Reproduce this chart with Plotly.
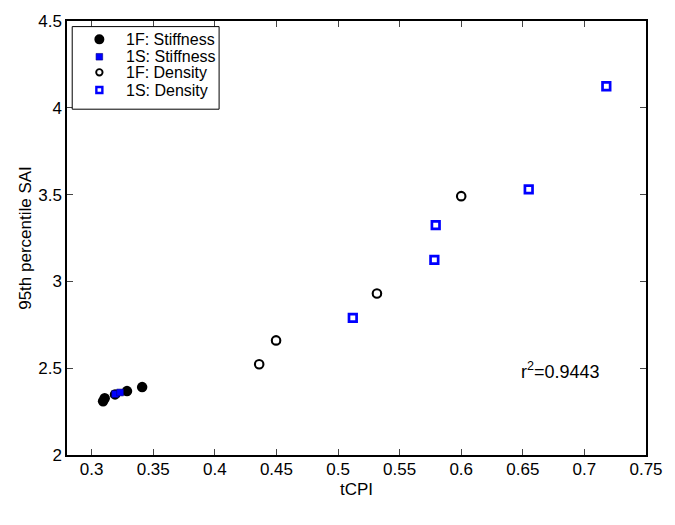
import plotly.graph_objects as go

# Data
f1_stiff_x = [0.3093, 0.3106, 0.3190, 0.3287, 0.3410]
f1_stiff_y = [2.310, 2.327, 2.349, 2.368, 2.391]
s1_stiff_x = [0.3191, 0.3231]
s1_stiff_y = [2.351, 2.360]
f1_dens_x = [0.4360, 0.4497, 0.5316, 0.6000]
f1_dens_y = [2.523, 2.660, 2.930, 3.491]
s1_dens_x = [0.5120, 0.5782, 0.5793, 0.6548, 0.7178]
s1_dens_y = [2.790, 3.124, 3.324, 3.530, 4.124]

x_ticks = [0.3, 0.35, 0.4, 0.45, 0.5, 0.55, 0.6, 0.65, 0.7, 0.75]
y_ticks = [2, 2.5, 3, 3.5, 4, 4.5]
legend_labels = ["1F: Stiffness", "1S: Stiffness", "1F: Density", "1S: Density"]
r2_text = "r<sup>2</sup>=0.9443"

FONT = "Liberation Sans, Arial, Helvetica, sans-serif"
BLUE = "#0000ff"

fig = go.Figure()
fig.add_trace(go.Scatter(x=f1_stiff_x, y=f1_stiff_y, mode="markers", name=legend_labels[0],
                         marker=dict(symbol="circle", color="black", size=10.5,
                                     line=dict(color="black", width=0))))
fig.add_trace(go.Scatter(x=s1_stiff_x, y=s1_stiff_y, mode="markers", name=legend_labels[1],
                         marker=dict(symbol="square", color=BLUE, size=6.8,
                                     line=dict(color="#000080", width=0.6))))
fig.add_trace(go.Scatter(x=f1_dens_x, y=f1_dens_y, mode="markers", name=legend_labels[2],
                         marker=dict(symbol="circle-open", color="black", size=8.5,
                                     line=dict(color="black", width=2.1))))
fig.add_trace(go.Scatter(x=s1_dens_x, y=s1_dens_y, mode="markers", name=legend_labels[3],
                         marker=dict(symbol="square-open", color=BLUE, size=7.6,
                                     line=dict(color=BLUE, width=2.7))))

fig.add_annotation(x=0.6465, y=2.485, xref="x", yref="y", text=r2_text, showarrow=False,
                   xanchor="left", yanchor="middle", font=dict(family=FONT, size=18, color="black"))

# Legend box (drawn manually to match the compact MATLAB-style legend)
fig.add_shape(type="rect", xref="paper", yref="paper", x0=0.009, x1=0.2627, y0=0.7968, y1=0.9871,
              line=dict(color="black", width=1), fillcolor="white", layer="above")
row_y = [0.9577, 0.9176, 0.8817, 0.8409]
mx, tx = 0.0559, 0.0983
legend_styles = [
    dict(type="circle", r=5, fill="black", line="black", lw=0),
    dict(type="rect", r=3.3, fill=BLUE, line="#000080", lw=0.6),
    dict(type="circle", r=3.2, fill="rgba(0,0,0,0)", line="black", lw=1.9),
    dict(type="rect", r=3.0, fill="rgba(0,0,0,0)", line=BLUE, lw=2.4),
]
for lab, yy, st in zip(legend_labels, row_y, legend_styles):
    fig.add_shape(type=st["type"], xref="paper", yref="paper", xsizemode="pixel", ysizemode="pixel",
                  xanchor=mx, yanchor=yy, x0=-st["r"], x1=st["r"], y0=-st["r"], y1=st["r"],
                  fillcolor=st["fill"], line=dict(color=st["line"], width=st["lw"]), layer="above")
    fig.add_annotation(x=tx, y=yy, xref="paper", yref="paper", text=lab, showarrow=False,
                       xanchor="left", yanchor="middle", font=dict(family=FONT, size=16, color="black"))

axis_common = dict(showgrid=False, zeroline=False, showline=True, linecolor="black", linewidth=1.5,
                   mirror="ticks", ticks="inside", ticklen=6, tickcolor="#444444", tickwidth=1,
                   tickfont=dict(family=FONT, size=17, color="black"))

fig.update_xaxes(range=[0.28, 0.75], tickvals=x_ticks, ticktext=[f"{v:g}" for v in x_ticks],
                 ticklabelstandoff=-2,
                 title=dict(text="tCPI", font=dict(family=FONT, size=17, color="black"), standoff=5),
                 **axis_common)
fig.update_yaxes(range=[2, 4.5], tickvals=y_ticks, ticktext=[f"{v:g}" for v in y_ticks],
                 title=dict(text="95th percentile SAI", font=dict(family=FONT, size=17, color="black"),
                            standoff=2),
                 **axis_common)

fig.update_layout(
    width=675, height=525,
    margin=dict(l=67, r=18, t=15, b=70, pad=0),
    paper_bgcolor="white", plot_bgcolor="white",
    showlegend=False,
    font=dict(family=FONT),
)

fig.write_html("out.html")
